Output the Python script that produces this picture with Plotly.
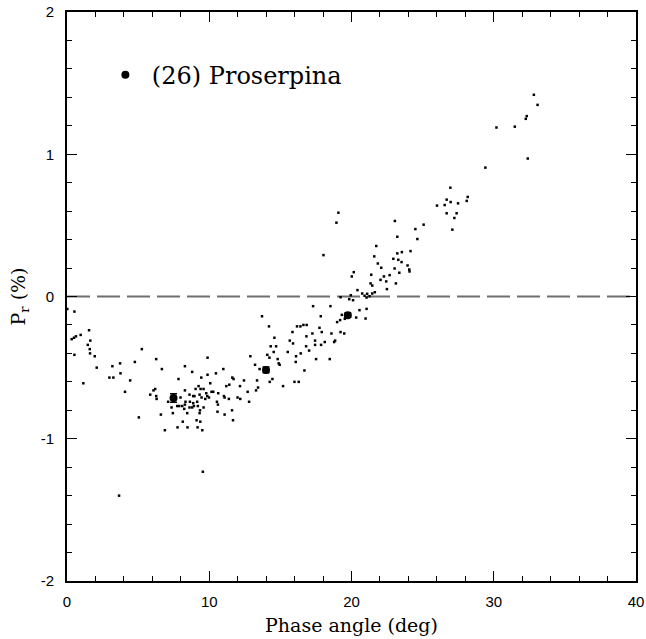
import plotly.graph_objects as go

# Individual polarization measurements: phase angle (deg), Pr (%)
phase = [
    0.02, 0.52, 1.55, 0.33, 0.49, 0.63, 0.96, 1.64, 1.46, 1.60, 1.62, 0.52, 1.95, 5.26,
    2.09, 3.19, 3.73, 4.77, 6.27, 6.67, 2.98, 3.26, 3.76, 4.44, 1.15, 4.08, 5.05, 6.60,
    6.88, 5.85, 6.08, 6.20, 6.27, 6.30, 7.84, 8.29, 8.80, 9.88, 10.99, 10.47, 9.44, 9.88,
    11.62, 11.71, 12.44, 12.89, 13.22, 13.54, 13.36, 13.43, 13.29, 10.07, 11.20, 11.41,
    12.16, 12.70, 12.80, 11.99, 12.18, 11.38, 11.03, 11.08, 10.63, 10.54, 10.61, 10.58,
    11.08, 11.60, 11.67, 10.16, 10.28, 9.79, 9.86, 9.98, 9.72, 9.60, 9.39, 9.25, 9.04,
    9.32, 9.46, 8.61, 8.87, 8.96, 8.29, 7.98, 8.33, 8.64, 8.87, 9.15, 9.20, 8.92, 8.61,
    8.29, 8.10, 7.89, 7.75, 7.35, 7.11, 7.44, 8.24, 8.45, 8.80, 9.35, 9.60, 9.32, 9.11,
    9.37, 8.14, 7.77, 8.47, 9.18, 9.51, 3.66, 9.55,
    13.71, 14.20, 14.58, 14.32, 14.70, 14.53, 14.08, 14.23, 14.81, 14.88, 14.95, 14.44,
    14.25, 15.19, 15.52, 15.66, 15.89, 15.85, 16.17, 16.41, 16.62, 16.85, 16.10, 16.08,
    16.43, 16.83, 16.81, 17.02, 17.25, 17.44, 17.44, 17.51, 17.75, 17.91, 17.86, 18.12,
    17.30, 17.84, 18.52, 16.69, 15.99, 16.29, 18.47, 18.59, 18.78, 18.85, 19.23, 19.49,
    18.99, 19.20, 19.32, 19.53,
    19.08, 18.94, 18.03, 19.23, 19.95, 19.84, 20.11, 20.42, 20.02, 20.16, 20.75, 20.92,
    21.06, 21.27, 21.10, 21.46, 21.64, 21.34, 21.46, 21.39, 21.60, 21.74, 21.85, 22.09,
    22.04, 22.28, 22.44, 22.68, 22.49, 23.12, 22.94, 23.22, 23.29, 23.54, 23.52, 23.03,
    23.36, 23.22, 23.05, 23.94, 24.06, 24.08, 24.15, 24.63, 24.49, 25.07, 26.01,
    20.56, 21.06, 20.99, 20.33,
    32.82, 33.08, 32.32, 32.25, 31.48, 30.19, 32.39, 29.41, 26.95, 26.69, 26.97, 26.55,
    27.49, 28.17, 28.10, 26.69, 27.39, 27.23, 27.09,
]
pol = [
    -0.087, -0.106, -0.237, -0.30, -0.29, -0.28, -0.27, -0.31, -0.34, -0.37, -0.40, -0.41,
    -0.42, -0.37, -0.50, -0.49, -0.47, -0.46, -0.44, -0.51, -0.57, -0.57, -0.54, -0.59,
    -0.61, -0.67, -0.85, -0.83, -0.94, -0.69, -0.66, -0.65, -0.70, -0.72, -0.58, -0.49,
    -0.53, -0.43, -0.51, -0.54, -0.57, -0.55, -0.57, -0.58, -0.59, -0.42, -0.48, -0.51,
    -0.59, -0.64, -0.66, -0.61, -0.63, -0.62, -0.63, -0.67, -0.74, -0.71, -0.72, -0.72,
    -0.70, -0.71, -0.68, -0.74, -0.76, -0.81, -0.83, -0.80, -0.87, -0.67, -0.67, -0.68,
    -0.70, -0.71, -0.72, -0.65, -0.65, -0.63, -0.65, -0.69, -0.71, -0.69, -0.70, -0.70,
    -0.66, -0.71, -0.74, -0.74, -0.75, -0.74, -0.77, -0.77, -0.78, -0.76, -0.77, -0.77,
    -0.77, -0.78, -0.74, -0.82, -0.79, -0.82, -0.78, -0.80, -0.78, -0.82, -0.87, -0.88,
    -0.88, -0.92, -0.92, -0.92, -0.94, -1.40, -1.232,
    -0.139, -0.21, -0.29, -0.35, -0.35, -0.39, -0.41, -0.43, -0.44, -0.47, -0.48, -0.58,
    -0.60, -0.63, -0.39, -0.31, -0.33, -0.25, -0.21, -0.21, -0.20, -0.20, -0.42, -0.46,
    -0.40, -0.28, -0.35, -0.38, -0.26, -0.31, -0.34, -0.44, -0.22, -0.25, -0.34, -0.32,
    -0.068, -0.139, -0.068, -0.52, -0.60, -0.60, -0.44, -0.26, -0.32, -0.31, -0.25, -0.26,
    -0.18, -0.166, -0.129, -0.157,
    0.589, 0.519, 0.291, -0.005, 0.009, -0.019, -0.026, 0.045, 0.141, 0.171, 0.021, 0.005,
    -0.007, 0.002, 0.019, 0.021, 0.030, 0.092, 0.077, 0.153, 0.282, 0.355, 0.232, 0.202,
    0.117, 0.141, 0.106, 0.150, 0.052, 0.092, 0.265, 0.303, 0.258, 0.312, 0.242, 0.197,
    0.167, 0.420, 0.531, 0.218, 0.190, 0.176, 0.319, 0.404, 0.474, 0.505, 0.639,
    -0.096, -0.087, -0.155, -0.148,
    1.418, 1.347, 1.268, 1.249, 1.194, 1.188, 0.970, 0.906, 0.765, 0.681, 0.664, 0.643,
    0.655, 0.700, 0.672, 0.585, 0.585, 0.552, 0.470,
]

# Binned (averaged) points for (26) Proserpina
bin_phase = [7.49, 13.99, 19.74]
bin_pol = [-0.713, -0.516, -0.131]
bin_err = [0.03, 0.02, 0.015]

x_ticks = [0, 10, 20, 30, 40]
y_ticks = [-2, -1, 0, 1, 2]

fig = go.Figure()

fig.add_trace(go.Scatter(
    x=phase, y=pol, mode="markers", showlegend=False,
    marker=dict(symbol="square", size=2.5, color="black", line=dict(width=0)),
    hoverinfo="x+y",
))

fig.add_trace(go.Scatter(
    x=bin_phase, y=bin_pol, mode="markers", name="(26) Proserpina",
    marker=dict(symbol="circle", size=8, color="black"),
    error_y=dict(type="data", array=bin_err, visible=True, color="black",
                 thickness=1.5, width=3.5),
))

fig.add_shape(type="line", xref="x", yref="y", x0=0, x1=40, y0=0, y1=0,
              line=dict(color="#6e6e6e", width=2, dash="23px,7px"), layer="below")

axis_common = dict(
    showgrid=False, zeroline=False, showline=True, linecolor="black", linewidth=2,
    mirror="allticks", ticks="inside", ticklen=10, tickwidth=1, tickcolor="black",
    automargin=False,
    tickfont=dict(family="Liberation Sans, Arial, sans-serif", size=15, color="black"),
)

fig.update_xaxes(
    range=[0, 40], tickvals=x_ticks, ticktext=[str(v) for v in x_ticks],
    ticklabelstandoff=6,
    minor=dict(dtick=2, ticks="inside", ticklen=5, tickwidth=1, tickcolor="black", showgrid=False),
    title=dict(text="Phase angle (deg)", standoff=10,
               font=dict(family="DejaVu Serif, serif", size=19, color="black")),
    **axis_common,
)
fig.update_yaxes(
    range=[-2, 2], tickvals=y_ticks, ticktext=[str(v) for v in y_ticks],
    ticklabelstandoff=8,
    minor=dict(dtick=0.2, tick0=0, ticks="inside", ticklen=5, tickwidth=1, tickcolor="black", showgrid=False),
    title=dict(text="P<sub>r</sub> (%)", standoff=10,
               font=dict(family="DejaVu Serif, serif", size=19, color="black")),
    **axis_common,
)

fig.update_layout(
    width=646, height=639,
    margin=dict(l=67, r=10, t=12, b=58, autoexpand=False),
    paper_bgcolor="white", plot_bgcolor="white",
    showlegend=True,
    legend=dict(x=0.056, y=0.889, xanchor="left", yanchor="middle", itemwidth=43,
                bgcolor="rgba(0,0,0,0)", borderwidth=0,
                font=dict(family="DejaVu Serif, serif", size=24, color="black")),
)

fig.write_html("out.html")
